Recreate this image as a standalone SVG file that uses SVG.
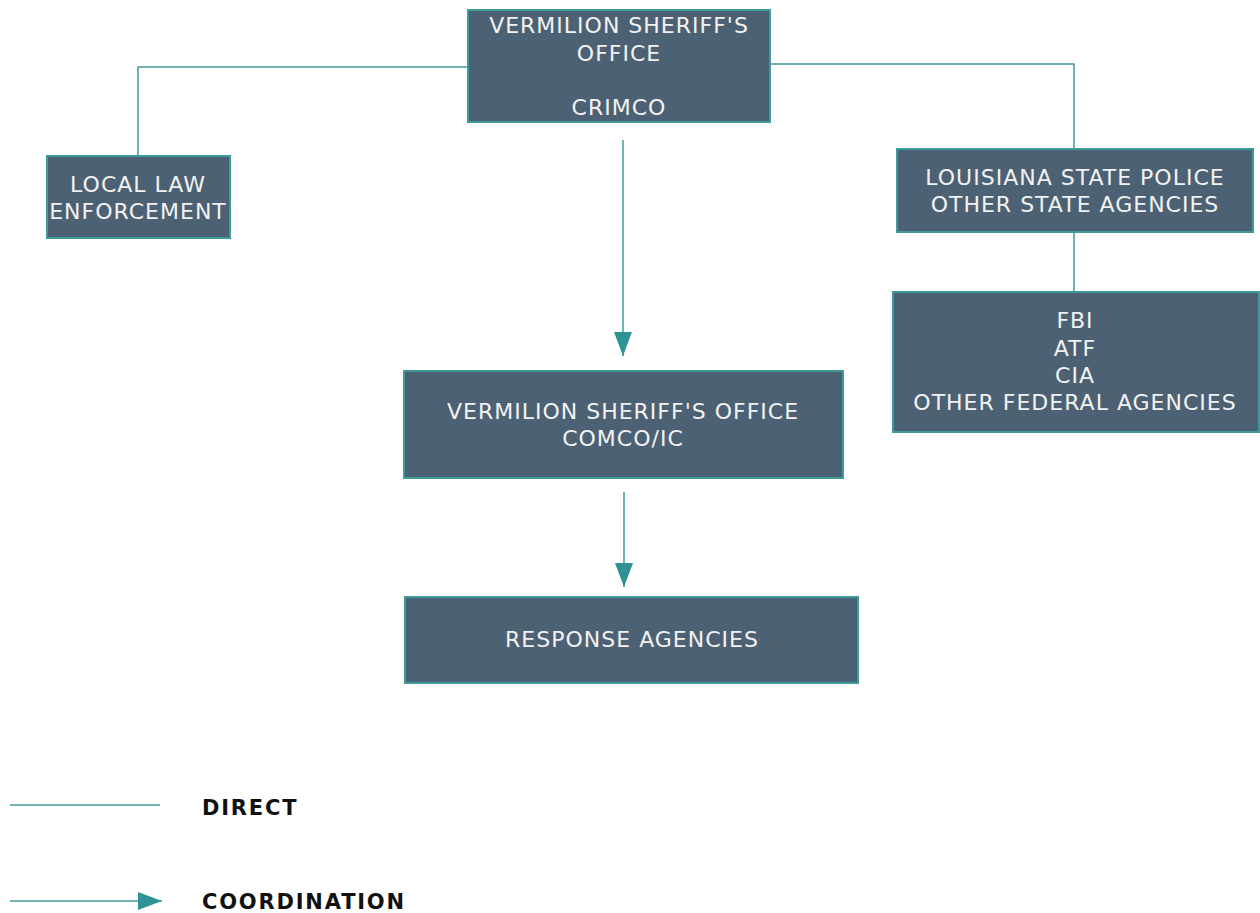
<svg xmlns="http://www.w3.org/2000/svg" width="1260" height="913" viewBox="0 0 1260 913">
<style>
.box{fill:#4c6173;stroke:#3f9a9c;stroke-width:2}
.t{font-family:"DejaVu Sans",Verdana,sans-serif;font-size:22px;letter-spacing:1px;fill:#f2f2f2;text-anchor:middle}
.c{fill:none;stroke:#3f9a9c;stroke-width:1.5}
.lg{font-family:"DejaVu Sans",Verdana,sans-serif;font-size:21px;font-weight:bold;fill:#111;letter-spacing:1.8px}
</style>
<defs>
<marker id="ahv" markerWidth="24" markerHeight="18" refX="24" refY="9" orient="auto" markerUnits="userSpaceOnUse">
<path d="M0,0 L24,9 L0,18 Z" fill="#2f9295"/>
</marker>
</defs>
<rect width="1260" height="913" fill="#ffffff"/>
<g id="connectors">
<polyline class="c" points="468,67 138,67 138,156"/>
<polyline class="c" points="770,64 1074,64 1074,149"/>
<line class="c" x1="1074" y1="232" x2="1074" y2="292"/>
<line class="c" x1="623" y1="140" x2="623" y2="356" marker-end="url(#ahv)"/>
<line class="c" x1="624" y1="492" x2="624" y2="587" marker-end="url(#ahv)"/>
</g>
<g id="n-crimco">
<rect class="box" x="468" y="10" width="302" height="112"/>
<text class="t" x="619" y="33">VERMILION SHERIFF'S</text>
<text class="t" x="619" y="61">OFFICE</text>
<text class="t" x="619" y="115">CRIMCO</text>
</g>
<g id="n-local">
<rect class="box" x="47" y="156" width="183" height="82"/>
<text class="t" x="138" y="192">LOCAL LAW</text>
<text class="t" x="138" y="219">ENFORCEMENT</text>
</g>
<g id="n-state">
<rect class="box" x="897" y="149" width="356" height="83"/>
<text class="t" x="1075" y="185">LOUISIANA STATE POLICE</text>
<text class="t" x="1075" y="212">OTHER STATE AGENCIES</text>
</g>
<g id="n-federal">
<rect class="box" x="893" y="292" width="366" height="140"/>
<text class="t" x="1075" y="328">FBI</text>
<text class="t" x="1075" y="356">ATF</text>
<text class="t" x="1075" y="383">CIA</text>
<text class="t" x="1075" y="410">OTHER FEDERAL AGENCIES</text>
</g>
<g id="n-comco">
<rect class="box" x="404" y="371" width="439" height="107"/>
<text class="t" x="623" y="419">VERMILION SHERIFF'S OFFICE</text>
<text class="t" x="623" y="446">COMCO/IC</text>
</g>
<g id="n-response">
<rect class="box" x="405" y="597" width="453" height="86"/>
<text class="t" x="632" y="647">RESPONSE AGENCIES</text>
</g>
<g id="legend">
<line class="c" x1="10" y1="805" x2="160" y2="805"/>
<text class="lg" x="202" y="815">DIRECT</text>
<line class="c" x1="10" y1="901" x2="162" y2="901" marker-end="url(#ahv)"/>
<text class="lg" x="202" y="909">COORDINATION</text>
</g>
</svg>
